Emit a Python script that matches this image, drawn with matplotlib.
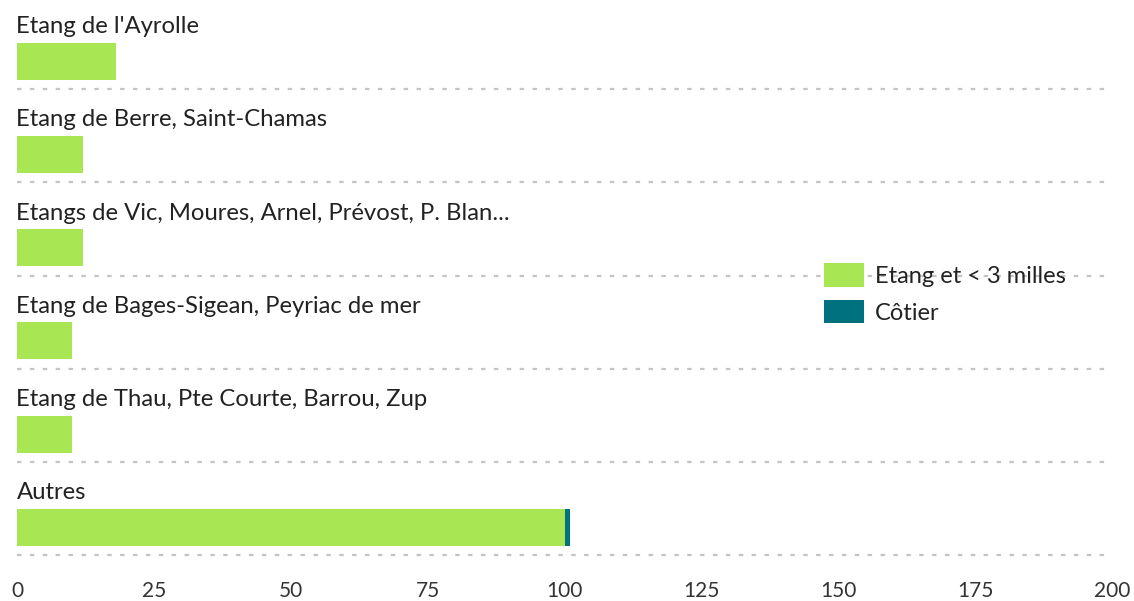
import numpy as np
import matplotlib
matplotlib.use('Agg')
import matplotlib.pyplot as plt
from matplotlib.patches import Patch

plt.rcParams['font.family'] = ['Lato', 'DejaVu Sans']

categories = ["Etang de l'Ayrolle", "Etang de Berre, Saint-Chamas",
              "Etangs de Vic, Moures, Arnel, Prévost, P. Blan...",
              "Etang de Bages-Sigean, Peyriac de mer",
              "Etang de Thau, Pte Courte, Barrou, Zup", "Autres"]
etang = [18, 12, 12, 10, 10, 100]
cotier = [0, 0, 0, 0, 0, 1]
xticks = [0, 25, 50, 75, 100, 125, 150, 175, 200]

GREEN = '#a8e654'
TEAL = '#00717f'
TXT = '#222222'

W, H = 1134, 601
fig = plt.figure(figsize=(W / 100, H / 100), dpi=100)
# axes spans pixel x 17..1112, y 0..570
ax = fig.add_axes([17 / W, (H - 570) / H, 1095 / W, 570 / H])

row = 93.3
top = -61 / row
bottom = (570 - 61) / row
y = np.arange(len(categories))
bh = 37 / row

ax.barh(y, etang, height=bh, color=GREEN, label='Etang et < 3 milles')
ax.barh(y, cotier, left=etang, height=bh, color=TEAL, label='Côtier')

for i, c in enumerate(categories):
    ax.text(-0.1, i - 0.37, c, ha='left', va='center', fontsize=17.2, color=TXT)
    ax.axhline(i + 0.30, color='#c4c4c4', lw=1.6, dashes=(2, 3.8), zorder=0)

ax.set_xlim(0, 200)
ax.set_ylim(bottom, top)
ax.set_xticks(xticks)
ax.set_xticklabels([str(t) for t in xticks], fontsize=15, color='#333333')
ax.set_yticks([])
ax.tick_params(axis='x', length=0, pad=8)
for s in ax.spines.values():
    s.set_visible(False)

handles = [Patch(facecolor=GREEN), Patch(facecolor=TEAL)]
fig.legend(handles, ['Etang et < 3 milles', 'Côtier'], loc='upper left',
           bbox_to_anchor=(803 / W, 1 - 242 / H), frameon=False, fontsize=17,
           handlelength=1.7, handleheight=1.15, handletextpad=0.45,
           labelspacing=0.55, labelcolor=TXT)

fig.savefig('out.png', dpi=100)
